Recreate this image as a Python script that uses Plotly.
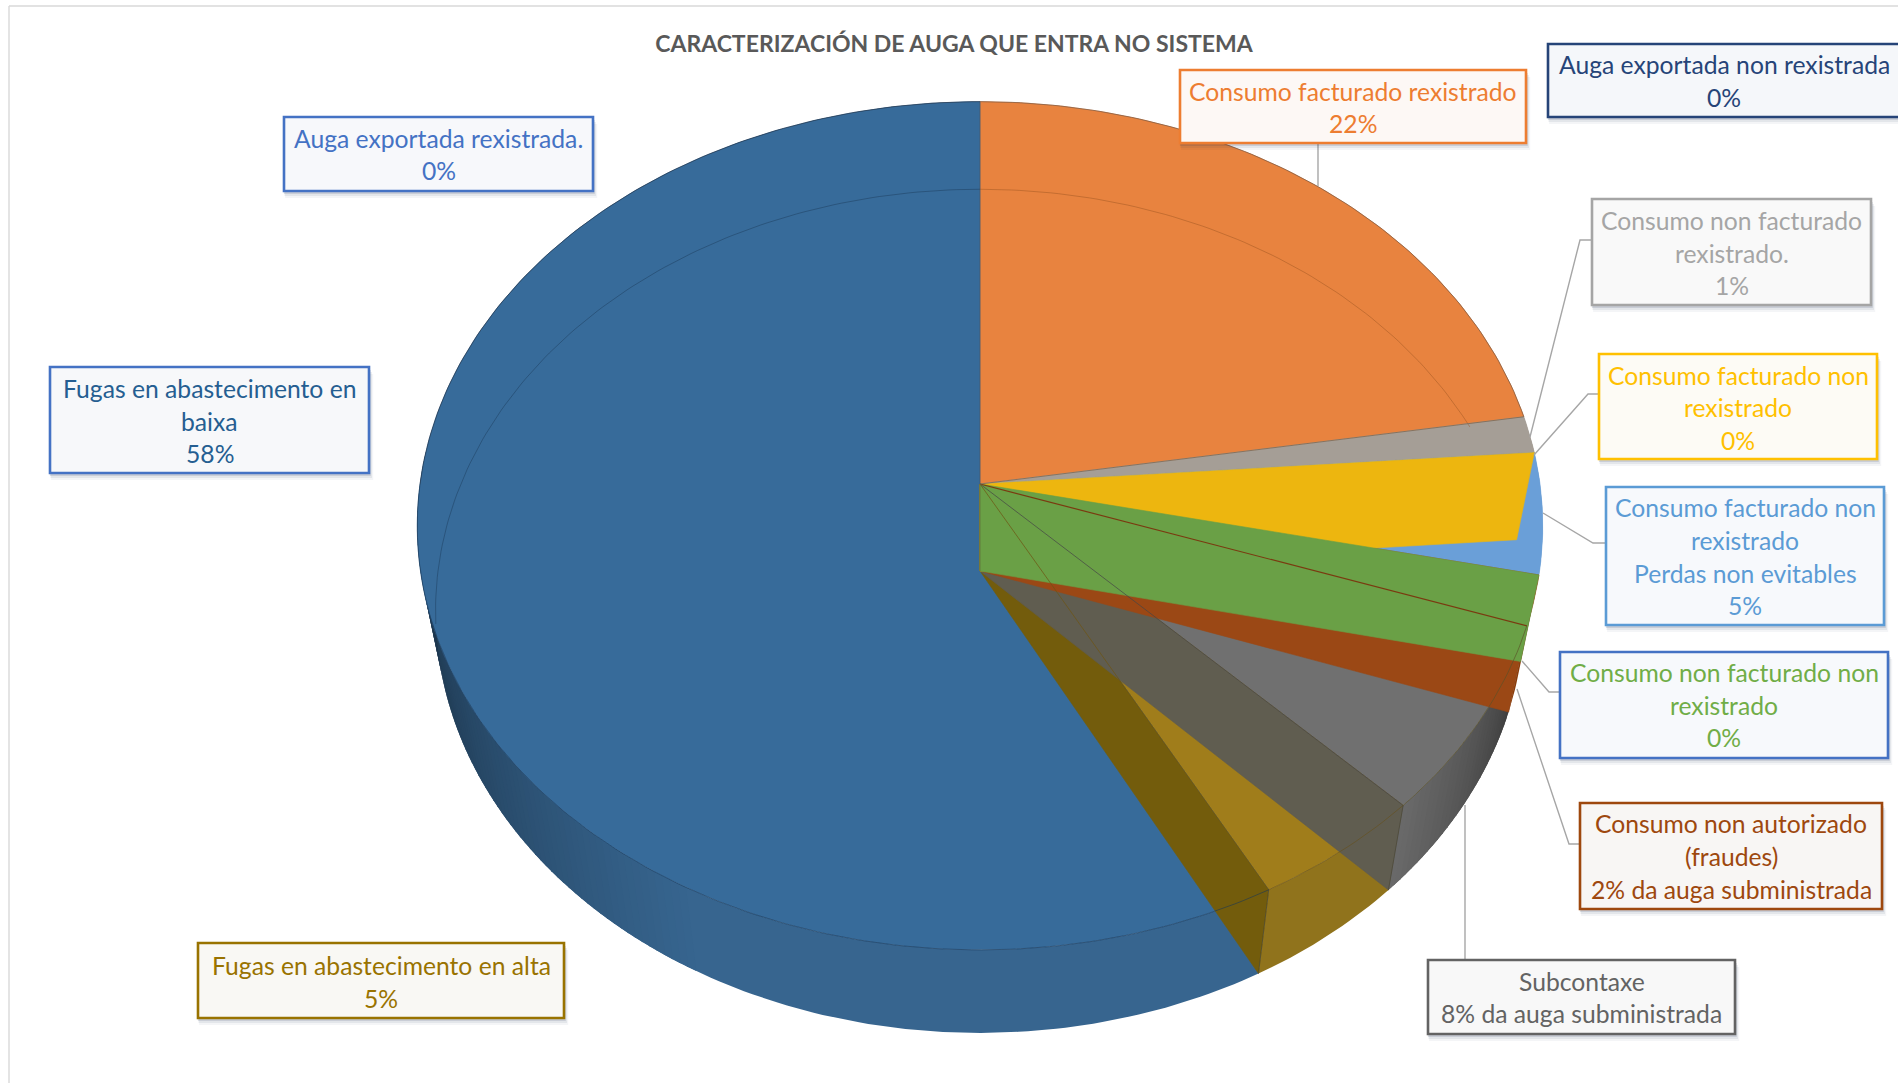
import math
import plotly.graph_objects as go

# ---- data ----
names = ["Consumo facturado rexistrado", "Consumo non facturado rexistrado.",
         "Consumo facturado non rexistrado", "Consumo facturado non rexistrado Perdas non evitables",
         "Consumo non facturado non rexistrado", "Consumo non autorizado (fraudes)",
         "Subcontaxe", "Fugas en abastecimento en alta", "Fugas en abastecimento en baixa",
         "Auga exportada rexistrada.", "Auga exportada non rexistrada"]
values = [22.4, 1.4, 0.0, 4.6, 0.0, 1.9, 7.3, 4.6, 57.8, 0.0, 0.0]
title_text = "CARACTERIZACIÓN DE AUGA QUE ENTRA NO SISTEMA"
label_lines = [
    ["Consumo facturado rexistrado", "22%"],
    ["Consumo non facturado", "rexistrado.", "1%"],
    ["Consumo facturado non", "rexistrado", "0%"],
    ["Consumo facturado non", "rexistrado", "Perdas non evitables", "5%"],
    ["Consumo non facturado non", "rexistrado", "0%"],
    ["Consumo non autorizado", "(fraudes)", "2% da auga subministrada"],
    ["Subcontaxe", "8% da auga subministrada"],
    ["Fugas en abastecimento en alta", "5%"],
    ["Fugas en abastecimento en", "baixa", "58%"],
    ["Auga exportada rexistrada.", "0%"],
    ["Auga exportada non rexistrada", "0%"],
]

# ---- styles ----
top_colors = ["#E8833F", "#A59E96", "#EDB60F", "#6A9FD8", "#6AA046", "#9B4815",
              "#707070", "#A07D1B", "#376B9A", "#376B9A", "#376B9A"]
wall_colors = [None, None, "#EDB60F", None, "#6AA046", "#9B4815", "#605D50", "#735C0C", None, None, None]
side_colors = ["#C96F33", "#8E8880", "#D09F0C", "#5B8BBF", "#5C8C3C", "#8A3C0A",
               "#707070", "#90731C", "#37658F", "#37658F", "#37658F"]
text_colors = ["#ED7D31", "#A5A5A5", "#FFC000", "#5B9BD5", "#70AD47", "#9E480E",
               "#636363", "#997300", "#255E91", "#4472C4", "#264478"]
border_colors = ["#ED7D31", "#A5A5A5", "#FFC000", "#5B9BD5", "#4472C4", "#9E480E",
                 "#636363", "#997300", "#4472C4", "#4472C4", "#264478"]
fill_colors = ["#FDF8F5", "#F9F9F9", "#FDFBF5", "#F7F9FC", "#F7F9FC", "#F8F6F4",
               "#F8F8F8", "#F9F8F4", "#F7F8FA", "#F7F8FB", "#F5F7FA"]
boxes = [(1180, 70, 1526, 143), (1592, 199, 1871, 305), (1599, 354, 1877, 459),
         (1606, 487, 1884, 625), (1560, 652, 1888, 758), (1580, 803, 1882, 909),
         (1428, 960, 1735, 1034), (198, 943, 564, 1018), (50, 367, 369, 473),
         (284, 117, 593, 191), (1548, 44, 1900, 117)]
line_ys = [[91, 123], [220, 253, 285], [375, 407, 440], [507, 540, 573, 605],
           [672, 705, 737], [823, 856, 889], [981, 1013], [965, 998],
           [388, 421, 453], [138, 170], [64, 97]]
leaders = [[(1318, 143), (1318, 186)],
           [(1592, 240), (1580, 240), (1530, 437)],
           [(1599, 394), (1588, 394), (1534, 455)],
           [(1606, 543), (1593, 543), (1543, 513)],
           [(1560, 692), (1549, 692), (1522, 661)],
           [(1580, 844), (1569, 844), (1517, 689)],
           [(1465, 960), (1465, 805)]]
FONT = "Lato"
FS = 24.7

# ---- tilted-disc projection (parameters of the view, not data) ----
UP = dict(cx=980.0, cy=484.0, A=560.0, B=420.0, k=0.0985)
LO = dict(cx=980.0, cy=571.0, A=542.0, B=418.0, k=0.095)


def rim(p, pct):
    t = 2 * math.pi * pct / 100
    X, Y = math.sin(t), math.cos(t)
    q = 1 + p["k"] * Y
    return p["cx"] + p["A"] * X / q, p["cy"] - p["B"] * Y / q


def arc(p, a, b, step=0.25):
    n = max(1, int(abs(b - a) / step))
    return [rim(p, a + (b - a) * i / n) for i in range(n + 1)]


def poly(pts, color, lw=0.6, lc=None):
    xs = [q[0] for q in pts] + [pts[0][0]]
    ys = [q[1] for q in pts] + [pts[0][1]]
    return go.Scatter(x=xs, y=ys, mode="lines", fill="toself", fillcolor=color,
                      line=dict(color=lc or color, width=lw), hoverinfo="skip", showlegend=False)


def stroke(pts, color, lw=1.0):
    return go.Scatter(x=[q[0] for q in pts], y=[q[1] for q in pts], mode="lines",
                      line=dict(color=color, width=lw), hoverinfo="skip", showlegend=False)


def shade(hex_c, f):
    r, g, b = int(hex_c[1:3], 16), int(hex_c[3:5], 16), int(hex_c[5:7], 16)
    return "rgb(%d,%d,%d)" % (r * f, g * f, b * f)


def side_factor(i, mid):
    # shading of the disc's side: flat at the front, darker towards the edges
    if i == 8:
        return 1.0 if mid < 58 else max(0.42, 1.0 - (mid - 58) / 18 * 0.58)
    if i == 6:
        return 0.55 + (mid - cum[i]) / values[i] * 0.4
    return 1.0


cum = [0.0]
for v in values:
    cum.append(cum[-1] + v)
cum[-1] = 100.0

fig = go.Figure()

# side of the disc; equal shades are merged so only real gradients use bands
for i, v in enumerate(values):
    if v <= 0:
        continue
    a, b = cum[i], cum[i + 1]
    n = max(1, int((b - a) / 0.25))
    run_start = a
    run_f = side_factor(i, a + (b - a) / (2 * n))
    for j in range(1, n + 1):
        s = a + (b - a) * j / n
        f = side_factor(i, s + (b - a) / (2 * n)) if j < n else None
        if f != run_f:
            pts = arc(UP, run_start, s + (0.3 if j < n else 0)) + arc(LO, s + (0.3 if j < n else 0), run_start)
            fig.add_trace(poly(pts, shade(side_colors[i], run_f), lw=0))
            run_start, run_f = s, f

# top faces
for i, v in enumerate(values):
    if v <= 0:
        continue
    pts = [(UP["cx"], UP["cy"])] + arc(UP, cum[i], cum[i + 1])
    fig.add_trace(poly(pts, top_colors[i]))

# faint back rim of the lower disc, seen through the top
fig.add_trace(stroke(arc(LO, 0, 19.2), "rgba(150,80,30,0.55)", 0.8))
fig.add_trace(stroke(arc(LO, 73, 100), "rgba(25,55,85,0.55)", 0.8))

# cut faces of the slices, drawn so that the earlier slices lie on top
order = [7, 6, 5, 2, 4]
for i in order:
    c = cum[i + 1]
    pts = [(UP["cx"], UP["cy"]), rim(UP, c), rim(LO, c), (LO["cx"], LO["cy"])]
    fig.add_trace(poly(pts, wall_colors[i]))

# edges showing through
for i, col, w in [(5, "#7A3A10", 1.2), (6, "rgba(70,70,70,0.8)", 0.9), (7, "rgba(110,85,20,0.8)", 0.9)]:
    fig.add_trace(stroke([(UP["cx"], UP["cy"]), rim(UP, cum[i + 1])], col, w))
fig.add_trace(stroke([(UP["cx"], UP["cy"]), rim(UP, cum[1])], "rgba(130,110,90,0.9)", 1.0))
fig.add_trace(stroke([(UP["cx"], UP["cy"]), (UP["cx"], rim(UP, 0)[1])], "rgba(90,70,60,0.5)", 0.8))
fig.add_trace(stroke([(UP["cx"], UP["cy"]), (LO["cx"], LO["cy"])], "rgba(90,90,50,0.6)", 0.8))
fig.add_trace(stroke(arc(UP, cum[6], cum[7]), "rgba(90,80,40,0.8)", 0.8))
fig.add_trace(stroke(arc(UP, cum[7], cum[8]), "rgba(100,80,30,0.8)", 0.8))
fig.add_trace(stroke(arc(UP, cum[8], 75), "rgba(25,55,85,0.65)", 0.9))
fig.add_trace(stroke(arc(UP, 0, cum[1]), "rgba(120,90,70,0.7)", 1.0))
fig.add_trace(stroke(arc(UP, 75, 100), "rgba(35,50,70,0.6)", 1.0))
for i in (6, 7):
    fig.add_trace(stroke([rim(UP, cum[i + 1]), rim(LO, cum[i + 1])], "rgba(60,60,50,0.6)", 0.8))

# leader lines
for seg in leaders:
    fig.add_trace(stroke(seg, "#A6A6A6", 1.4))

# label boxes with soft offset shadow, text one line at a time
shapes = []
annotations = []
for (x0, y0, x1, y1), bc, fc, tc, lines, ys in zip(boxes, border_colors, fill_colors,
                                                   text_colors, label_lines, line_ys):
    for off, al in [(7, 0.05), (5, 0.08), (3, 0.14)]:
        shapes.append(dict(type="rect", xref="x", yref="y", x0=x0 - 1 + off * 0.3, y0=y0 + off,
                           x1=x1 + off * 0.6, y1=y1 + off, layer="above",
                           line=dict(width=0), fillcolor="rgba(40,60,90,%.2f)" % al))
    shapes.append(dict(type="rect", xref="x", yref="y", x0=x0, y0=y0, x1=x1, y1=y1, layer="above",
                       line=dict(color=bc, width=2.6), fillcolor=fc))
    for text, yy in zip(lines, ys):
        annotations.append(dict(x=(x0 + x1) / 2, y=yy, xref="x", yref="y", text=text,
                                showarrow=False, xanchor="center", yanchor="middle",
                                font=dict(family=FONT, size=FS, color=tc)))

# chart-area frame
shapes.append(dict(type="line", xref="x", yref="y", x0=9, y0=6, x1=1898, y1=6, layer="below",
                   line=dict(color="#D9D9D9", width=1.4)))
shapes.append(dict(type="line", xref="x", yref="y", x0=9, y0=6, x1=9, y1=1083, layer="below",
                   line=dict(color="#D9D9D9", width=1.4)))

fig.update_layout(
    width=1898, height=1083, margin=dict(l=0, r=0, t=0, b=0),
    paper_bgcolor="white", plot_bgcolor="white", showlegend=False,
    xaxis=dict(range=[0, 1898], visible=False, fixedrange=True),
    yaxis=dict(range=[1083, 0], visible=False, fixedrange=True),
    title=dict(text="<b>%s</b>" % title_text, x=954 / 1898, y=1 - 44 / 1083,
               xanchor="center", yanchor="middle",
               font=dict(family=FONT, size=23, color="#595959")),
    shapes=shapes, annotations=annotations,
)
fig.write_html("out.html", config=dict(displayModeBar=False),
               post_script="document.body.style.margin='0';document.body.style.overflow='hidden';")
